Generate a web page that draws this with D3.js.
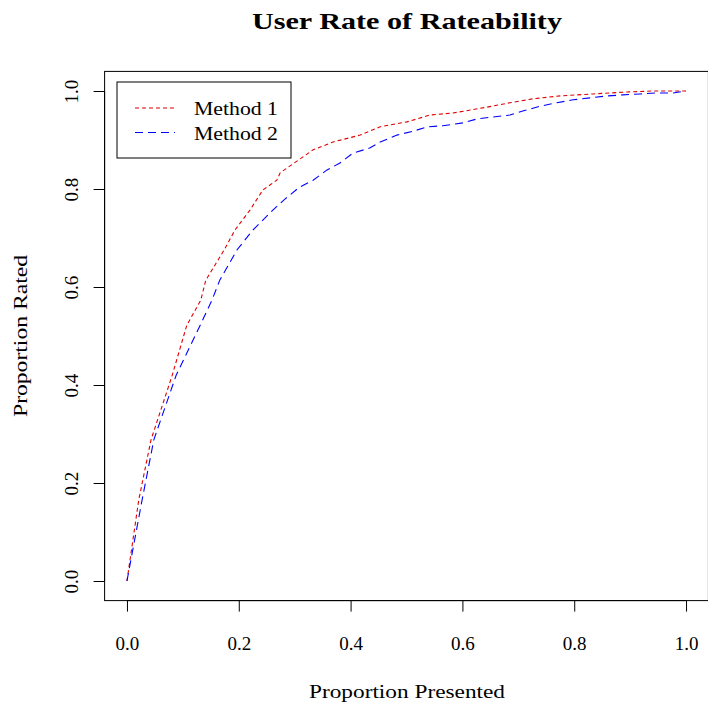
<!DOCTYPE html>
<html><head><meta charset="utf-8">
<script src="https://cdn.jsdelivr.net/npm/d3@7"></script>
<style>body{margin:0;background:#fff}svg{display:block}text{font-family:"Liberation Serif","DejaVu Serif",serif;fill:#000}</style>
</head><body>
<script>
const title = "User Rate of Rateability";
const xLabel = "Proportion Presented";
const yLabel = "Proportion Rated";
const seriesNames = ["Method 1", "Method 2"];
const xTicks = [0, 0.2, 0.4, 0.6, 0.8, 1.0];
const yTicks = [0, 0.2, 0.4, 0.6, 0.8, 1.0];
const method1X = [0,0.021,0.043,0.081,0.107,0.132,0.141,0.174,0.193,0.220,0.243,0.268,0.274,0.333,0.369,0.417,0.453,0.501,0.542,0.583,0.644,0.685,0.726,0.775,0.834,0.894,0.941,1];
const method1Y = [0,0.165,0.288,0.420,0.522,0.573,0.614,0.676,0.716,0.757,0.798,0.818,0.833,0.880,0.896,0.910,0.927,0.937,0.951,0.955,0.967,0.976,0.984,0.990,0.994,0.998,1.0,1];
const method2X = [0,0.027,0.048,0.088,0.131,0.152,0.166,0.197,0.225,0.261,0.283,0.309,0.333,0.358,0.381,0.404,0.435,0.453,0.483,0.512,0.538,0.565,0.601,0.626,0.655,0.685,0.708,0.739,0.769,0.798,0.828,0.859,0.887,0.918,0.948,0.977,1];
const method2Y = [0,0.165,0.288,0.420,0.522,0.573,0.614,0.676,0.716,0.757,0.78,0.804,0.818,0.839,0.853,0.873,0.884,0.896,0.910,0.918,0.927,0.929,0.935,0.943,0.947,0.951,0.959,0.969,0.976,0.982,0.986,0.990,0.992,0.994,0.996,0.996,1];

const W = 708, H = 711;
const svg = d3.select("body").append("svg").attr("width", W).attr("height", H);
const x = d3.scaleLinear().domain([-0.04, 1.04]).range([104.6, 708.4]);
const y = d3.scaleLinear().domain([-0.04, 1.04]).range([600.6, 71.4]);

// box
svg.append("rect").attr("x", x(-0.04)).attr("y", y(1.04))
  .attr("width", x(1.04) - x(-0.04)).attr("height", y(-0.04) - y(1.04))
  .attr("fill", "none").attr("stroke", "#000").attr("stroke-width", 1);

// x axis
const gx = svg.append("g").attr("transform", `translate(0,${y(-0.04)})`)
  .call(d3.axisBottom(x).tickValues(xTicks).tickFormat(d3.format(".1f")).tickSize(11).tickSizeOuter(0));
gx.select(".domain").attr("d", `M${x(0)},0H${x(1)}`);
gx.selectAll("text").attr("font-size", 19).attr("dy", 0).attr("y", 49.5);
gx.selectAll("line").attr("stroke", "#000");

// y axis
const gy = svg.append("g").attr("transform", `translate(${x(-0.04)},0)`)
  .call(d3.axisLeft(y).tickValues(yTicks).tickFormat(d3.format(".1f")).tickSize(11).tickSizeOuter(0));
gy.select(".domain").attr("d", `M0,${y(0)}V${y(1)}`);
gy.selectAll("text").attr("font-size", 19).attr("x", null).attr("dy", null)
  .attr("text-anchor", "middle")
  .attr("transform", "translate(-26.5,0) rotate(-90)");
gy.selectAll("line").attr("stroke", "#000");
svg.selectAll(".tick text").attr("fill", "#000");
svg.selectAll("g").attr("font-family", null);

// lines
const series = [
  {name: seriesNames[0], xs: method1X, ys: method1Y, color: "#e00000", dash: "4,3"},
  {name: seriesNames[1], xs: method2X, ys: method2Y, color: "#0000ff", dash: "8,5"}
];
const line = d3.line().x(d => x(d[0])).y(d => y(d[1]));
series.forEach(s => {
  svg.append("path").datum(s.xs.map((v, i) => [v, s.ys[i]]))
    .attr("d", line).attr("fill", "none").attr("stroke", s.color)
    .attr("stroke-width", 1.1).attr("stroke-dasharray", s.dash);
});

// legend
const lg = svg.append("g");
lg.append("rect").attr("x", 117).attr("y", 82).attr("width", 174).attr("height", 76)
  .attr("fill", "#fff").attr("stroke", "#000").attr("stroke-width", 1);
series.forEach((s, i) => {
  const ly = 108 + i * 24.5;
  lg.append("line").attr("x1", 135).attr("x2", 175).attr("y1", ly).attr("y2", ly)
    .attr("stroke", s.color).attr("stroke-width", 1.1).attr("stroke-dasharray", s.dash);
  lg.append("text").attr("x", 194).attr("y", ly + 7).attr("font-size", 19)
    .attr("textLength", 84).attr("lengthAdjust", "spacingAndGlyphs").text(s.name);
});

// titles
svg.append("text").attr("x", 407).attr("y", 29).attr("text-anchor", "middle")
  .attr("font-size", 23).attr("font-weight", "bold")
  .attr("textLength", 310).attr("lengthAdjust", "spacingAndGlyphs").text(title);
svg.append("text").attr("x", 407).attr("y", 698).attr("text-anchor", "middle")
  .attr("font-size", 19).attr("textLength", 196).attr("lengthAdjust", "spacingAndGlyphs").text(xLabel);
svg.append("text").attr("transform", `translate(27,${(y(0)+y(1))/2}) rotate(-90)`)
  .attr("text-anchor", "middle").attr("font-size", 19)
  .attr("textLength", 162).attr("lengthAdjust", "spacingAndGlyphs").text(yLabel);
</script>
</body></html>
